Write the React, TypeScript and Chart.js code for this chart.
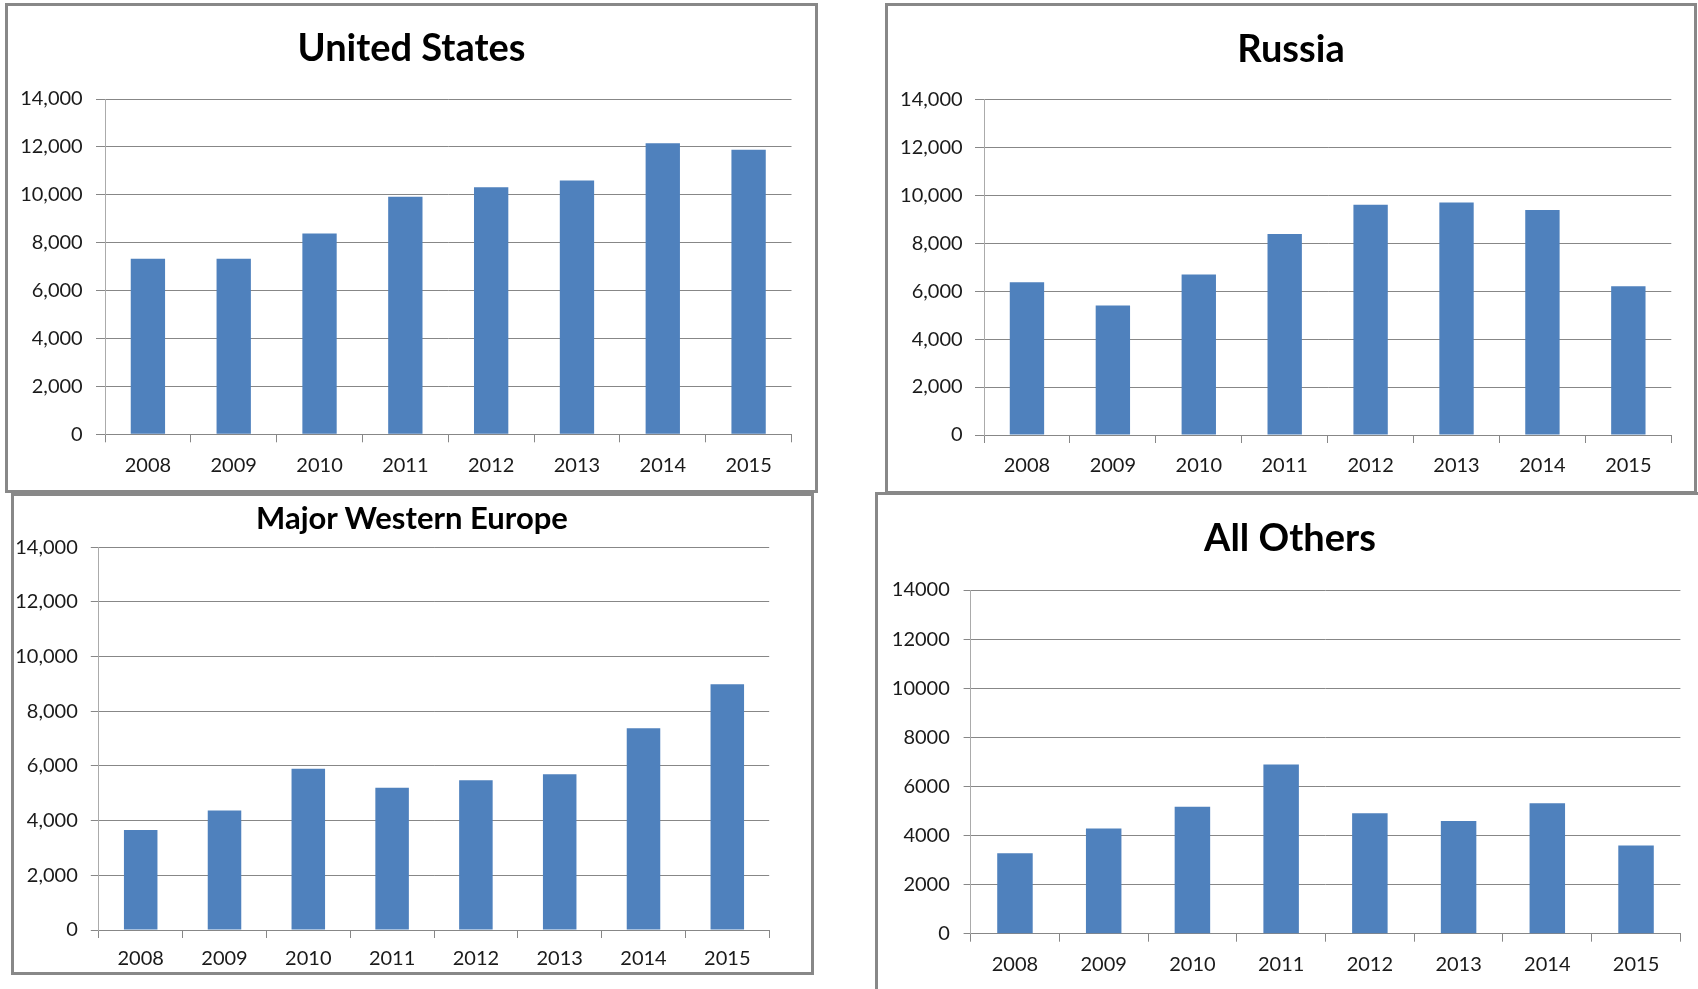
import React, { useEffect, useRef } from "react";
import { Chart, registerables } from "chart.js";

Chart.register(...registerables);

// ---- data ----
const years = ["2008", "2009", "2010", "2011", "2012", "2013", "2014", "2015"];
const unitedStates = [7330, 7330, 8380, 9920, 10320, 10600, 12150, 11880];
const russia = [6370, 5400, 6690, 8380, 9600, 9700, 9380, 6200];
const majorWesternEurope = [3660, 4370, 5900, 5200, 5480, 5700, 7380, 8990];
const allOthers = [3280, 4290, 5170, 6890, 4910, 4590, 5310, 3590];
const yMin = 0;
const yMax = 14000;
const yStep = 2000;

const BAR = "#4F81BD";
const GRID = "#878787";
const FONT = "Lato, 'Open Sans', sans-serif";

type Panel = {
  title: string;
  values: number[];
  commas: boolean;
  left: number;
  top: number;
  w: number;
  h: number;
  plotTop: number;
  yWidth: number;
  padRight: number;
  xHeight: number;
  titleSize: number;
  titleTop: number;
  yTickLen: number;
  yTickPad: number;
  xTickPad: number;
};

const BORDER = 3;

const panels: Panel[] = [
  {
    title: "United States", values: unitedStates, commas: true,
    left: 5, top: 3, w: 813, h: 490,
    plotTop: 93, yWidth: 97, padRight: 23.5, xHeight: 55.7,
    titleSize: 38, titleTop: 17.9,
    yTickLen: 9, yTickPad: 13.3, xTickPad: 11,
  },
  {
    title: "Russia", values: russia, commas: true,
    left: 885, top: 3, w: 812, h: 491,
    plotTop: 93.3, yWidth: 96, padRight: 22.7, xHeight: 56,
    titleSize: 38, titleTop: 18.8,
    yTickLen: 9, yTickPad: 12.4, xTickPad: 10.5,
  },
  {
    title: "Major Western Europe", values: majorWesternEurope, commas: true,
    left: 10.5, top: 492.5, w: 803, h: 482,
    plotTop: 51.2, yWidth: 84.8, padRight: 41.8, xHeight: 42,
    titleSize: 31, titleTop: 3,
    yTickLen: 8, yTickPad: 13, xTickPad: 9,
  },
  {
    title: "All Others", values: allOthers, commas: false,
    left: 875, top: 492, w: 830, h: 510,
    plotTop: 95, yWidth: 92.6, padRight: 21.6, xHeight: 65.3,
    titleSize: 38, titleTop: 18.6,
    yTickLen: 7, yTickPad: 13.8, xTickPad: 11,
  },
];

function ChartPanel({ p }: { p: Panel }) {
  const ref = useRef<HTMLCanvasElement | null>(null);
  const cw = p.w - 2 * BORDER;
  const ch = p.h - 2 * BORDER;

  useEffect(() => {
    if (!ref.current) return;
    const chart = new Chart(ref.current, {
      type: "bar",
      data: {
        labels: years,
        datasets: [
          {
            data: p.values,
            backgroundColor: BAR,
            borderWidth: 0,
            barPercentage: 0.4,
            categoryPercentage: 1,
          },
        ],
      },
      options: {
        animation: false,
        responsive: false,
        devicePixelRatio: 1,
        events: [],
        layout: { padding: { left: 0, right: p.padRight, top: p.plotTop, bottom: 0 } },
        plugins: {
          legend: { display: false },
          tooltip: { enabled: false },
          title: { display: false },
        },
        scales: {
          x: {
            type: "category",
            offset: true,
            grid: {
              display: true,
              offset: true,
              drawOnChartArea: false,
              drawTicks: true,
              tickLength: 8,
              color: GRID,
              lineWidth: 1,
            },
            border: { display: true, color: GRID, width: 1 },
            ticks: {
              color: "#1a1a1a",
              font: { family: FONT, size: 20 },
              padding: p.xTickPad,
              maxRotation: 0,
              autoSkip: false,
            },
            afterFit: (scale: any) => {
              scale.height = p.xHeight;
            },
          },
          y: {
            type: "linear",
            min: yMin,
            max: yMax,
            grid: {
              display: true,
              drawTicks: true,
              tickLength: p.yTickLen,
              color: GRID,
              lineWidth: 1,
            },
            border: { display: true, color: "#ababab", width: 1 },
            ticks: {
              stepSize: yStep,
              color: "#1a1a1a",
              font: { family: FONT, size: 20 },
              padding: p.yTickPad,
              callback: (v: any) =>
                p.commas ? Number(v).toLocaleString("en-US") : String(v),
            },
            afterFit: (scale: any) => {
              scale.width = p.yWidth;
            },
          },
        },
      } as any,
    });
    return () => chart.destroy();
  }, [p]);

  return (
    <div
      style={{
        position: "absolute",
        left: p.left,
        top: p.top,
        width: p.w,
        height: p.h,
        boxSizing: "border-box",
        border: `${BORDER}px solid #888888`,
        background: "#ffffff",
      }}
    >
      <canvas
        ref={ref}
        width={cw}
        height={ch}
        style={{ display: "block", width: cw, height: ch }}
      />
      <div
        style={{
          position: "absolute",
          left: 0,
          width: cw,
          top: p.titleTop,
          textAlign: "center",
          fontFamily: FONT,
          fontWeight: 700,
          fontSize: p.titleSize,
          lineHeight: `${p.titleSize * 1.2}px`,
          color: "#000000",
          whiteSpace: "nowrap",
        }}
      >
        {p.title}
      </div>
    </div>
  );
}

export default function App() {
  return (
    <div
      style={{
        position: "fixed",
        left: 0,
        top: 0,
        width: 1698,
        height: 989,
        overflow: "hidden",
        background: "#ffffff",
      }}
    >
      {panels.map((p) => (
        <ChartPanel key={p.title} p={p} />
      ))}
    </div>
  );
}
